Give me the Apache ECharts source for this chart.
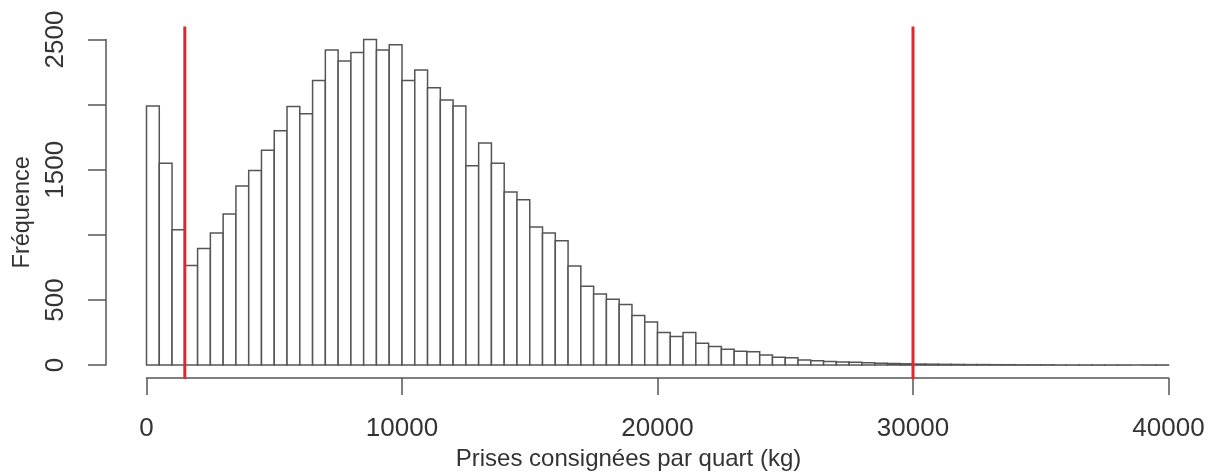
<!DOCTYPE html>
<html>
<head>
<meta charset="utf-8">
<script src="https://cdn.jsdelivr.net/npm/echarts@6/dist/echarts.min.js"></script>
<style>
  html, body { margin: 0; padding: 0; background: #fff; }
  #chart { width: 1220px; height: 476px; }
</style>
</head>
<body>
<div id="chart"></div>
<script>
// classes de 500 kg, de 0 à 40000
const binStart = 0;
const binWidth = 500;
const counts = [
  1990, 1550, 1040, 765, 895, 1015, 1160, 1375, 1495, 1650,
  1800, 1985, 1930, 2185, 2420, 2335, 2400, 2500, 2420, 2460,
  2185, 2265, 2130, 2035, 1990, 1530, 1705, 1550, 1330, 1270,
  1060, 1015, 955, 760, 605, 545, 505, 465, 380, 330,
  250, 220, 250, 168, 143, 122, 107, 102, 78, 60,
  57, 40, 34, 28, 24, 21, 18, 15, 12, 10,
  8, 7, 6, 5, 4, 4, 3, 3, 2, 2,
  2, 1, 1, 1, 1, 1, 1, 0, 1, 1
];
const xTicks = [0, 10000, 20000, 30000, 40000];
const yTicks = [0, 500, 1000, 1500, 2000, 2500];
const yLabelsShown = [0, 500, 1500, 2500]; // R saute 1000 et 2000
const redLines = [1500, 30000];

const font = '"Liberation Sans", Arial, sans-serif';
const ink = '#333';
const lineCol = '#555';

const histData = counts.map((c, i) => [binStart + i * binWidth, binStart + (i + 1) * binWidth, c]);

const chart = echarts.init(document.getElementById('chart'));
chart.setOption({
  backgroundColor: '#fff',
  animation: false,
  grid: [
    // axes visibles : 0..40000 / 0..2500
    { left: 146.5, right: 51.5, top: 39.5, bottom: 110 },
    // zone de tracé étendue (4 %) pour les lignes rouges
    { left: 105.6, right: 10.6, top: 26.4, bottom: 97 }
  ],
  xAxis: [
    {
      gridIndex: 0, type: 'value', min: xTicks[0], max: xTicks[xTicks.length - 1], interval: 10000,
      offset: 13,
      splitLine: { show: false },
      axisLine: { show: true, onZero: false, lineStyle: { color: lineCol, width: 1.5 } },
      axisTick: { show: true, length: 17, lineStyle: { color: lineCol, width: 1.5 } },
      axisLabel: { margin: 38, fontSize: 26, color: ink, fontFamily: font, formatter: v => String(v) },
      name: 'Prises consignées par quart (kg)',
      nameLocation: 'middle', nameGap: 68,
      nameTextStyle: { fontSize: 24, color: ink, fontFamily: font, padding: [0, 58, 0, 0] }
    },
    { gridIndex: 1, type: 'value', min: -1600, max: 41600, show: false }
  ],
  yAxis: [
    {
      gridIndex: 0, type: 'value', min: yTicks[0], max: yTicks[yTicks.length - 1], interval: 500,
      offset: 40.5,
      splitLine: { show: false },
      axisLine: { show: true, onZero: false, lineStyle: { color: lineCol, width: 1.5 } },
      axisTick: { show: true, length: 18, lineStyle: { color: lineCol, width: 1.5 } },
      axisLabel: {
        rotate: 90, margin: 37, fontSize: 26, color: ink, fontFamily: font,
        formatter: v => (yLabelsShown.indexOf(v) >= 0 ? String(v) : '')
      },
      name: 'Fréquence',
      nameLocation: 'middle', nameGap: 71,
      nameTextStyle: { fontSize: 23.5, color: ink, fontFamily: font, padding: [0, 20, 0, 0] }
    },
    { gridIndex: 1, type: 'value', min: -100, max: 2600, show: false }
  ],
  series: [
    {
      type: 'custom',
      xAxisIndex: 0, yAxisIndex: 0,
      data: histData,
      encode: { x: [0, 1], y: 2 },
      renderItem: (params, api) => {
        const p0 = api.coord([api.value(0), api.value(2)]);
        const p1 = api.coord([api.value(1), 0]);
        return {
          type: 'rect',
          shape: { x: p0[0], y: p0[1], width: p1[0] - p0[0], height: p1[1] - p0[1] },
          style: { fill: '#fff', stroke: lineCol, lineWidth: 1.5 }
        };
      }
    },
    {
      type: 'custom',
      xAxisIndex: 1, yAxisIndex: 1,
      data: redLines.map(v => [v]),
      encode: { x: 0 },
      z: 5,
      renderItem: (params, api) => {
        const cs = params.coordSys;
        const x = api.coord([api.value(0), 0])[0];
        return {
          type: 'line',
          shape: { x1: x, y1: cs.y, x2: x, y2: cs.y + cs.height },
          style: { stroke: '#e3262b', lineWidth: 3 }
        };
      }
    }
  ]
});
</script>
</body>
</html>
